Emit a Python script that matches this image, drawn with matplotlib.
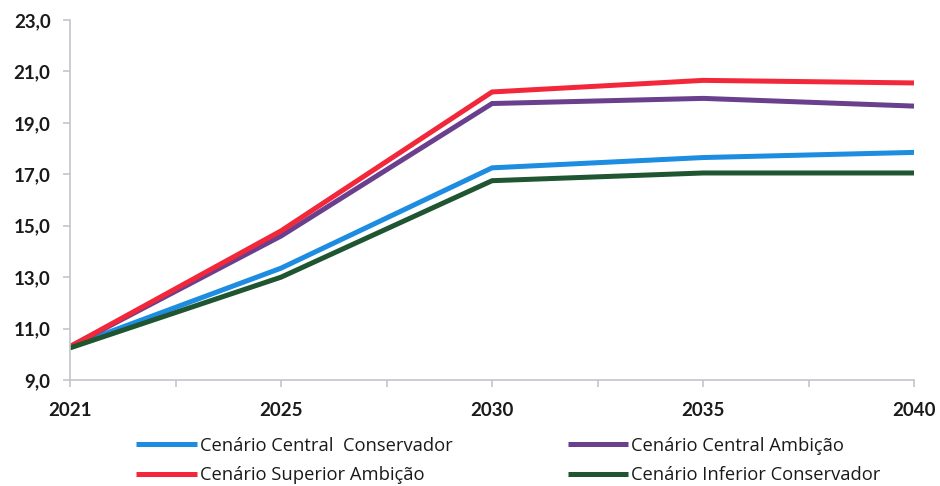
import matplotlib
matplotlib.use("Agg")
import matplotlib.pyplot as plt
from matplotlib.ticker import FixedLocator, FuncFormatter

years = ["2021", "2025", "2030", "2035", "2040"]
central_conservador = [10.3, 13.35, 17.25, 17.65, 17.85]
central_ambicao = [10.3, 14.6, 19.75, 19.95, 19.65]
superior_ambicao = [10.3, 14.8, 20.2, 20.65, 20.55]
inferior_conservador = [10.25, 13.0, 16.75, 17.05, 17.05]

series = [
    ("Cenário Central  Conservador", central_conservador, "#1c8de0"),
    ("Cenário Central Ambição", central_ambicao, "#6a3f8e"),
    ("Cenário Superior Ambição", superior_ambicao, "#f2283a"),
    ("Cenário Inferior Conservador", inferior_conservador, "#1f5530"),
]

plt.rcParams["font.family"] = ["Lato", "DejaVu Sans"]

fig = plt.figure(figsize=(9.4, 4.86), dpi=100)
ax = fig.add_axes([0.0745, 0.218, 0.898, 0.741])

x = list(range(len(years)))
handles = {}
for label, vals, color in series:
    (ln,) = ax.plot(x, vals, color=color, lw=3.6, solid_capstyle="butt",
                    solid_joinstyle="miter", label=label)
    handles[label] = ln

ax.set_xlim(0, len(years) - 1)
ax.set_ylim(9, 23)
ax.set_yticks([9, 11, 13, 15, 17, 19, 21, 23])
ax.yaxis.set_major_formatter(FuncFormatter(lambda v, p: f"{v:.1f}".replace(".", ",")))
ax.set_xticks(x)
ax.set_xticklabels(years)
ax.xaxis.set_minor_locator(FixedLocator([i + 0.5 for i in x[:-1]]))

axis_col = "#c4c4cc"
for side in ["top", "right"]:
    ax.spines[side].set_visible(False)
for side in ["left", "bottom"]:
    ax.spines[side].set_color(axis_col)
    ax.spines[side].set_linewidth(1.2)
ax.tick_params(axis="both", which="both", color=axis_col, width=1.2,
               labelcolor="#1a1a1a", labelsize=13.5)
ax.tick_params(axis="y", length=5, pad=9)
ax.tick_params(axis="x", which="both", length=5, pad=11)
for t in ax.get_xticklabels() + ax.get_yticklabels():
    t.set_fontweight("bold")

order = ["Cenário Central  Conservador", "Cenário Superior Ambição",
         "Cenário Central Ambição", "Cenário Inferior Conservador"]
leg = fig.legend([handles[k] for k in order], order, ncol=2,
                 loc="center", bbox_to_anchor=(0.541, 0.0525), frameon=False,
                 prop={"family": ["Open Sans", "DejaVu Sans"], "size": 13.2},
                 handlelength=3.3, handletextpad=0.15,
                 columnspacing=6.3, labelspacing=0.62)
for t in leg.get_texts():
    t.set_color("#1a1a1a")

fig.savefig("out.png", dpi=100)
